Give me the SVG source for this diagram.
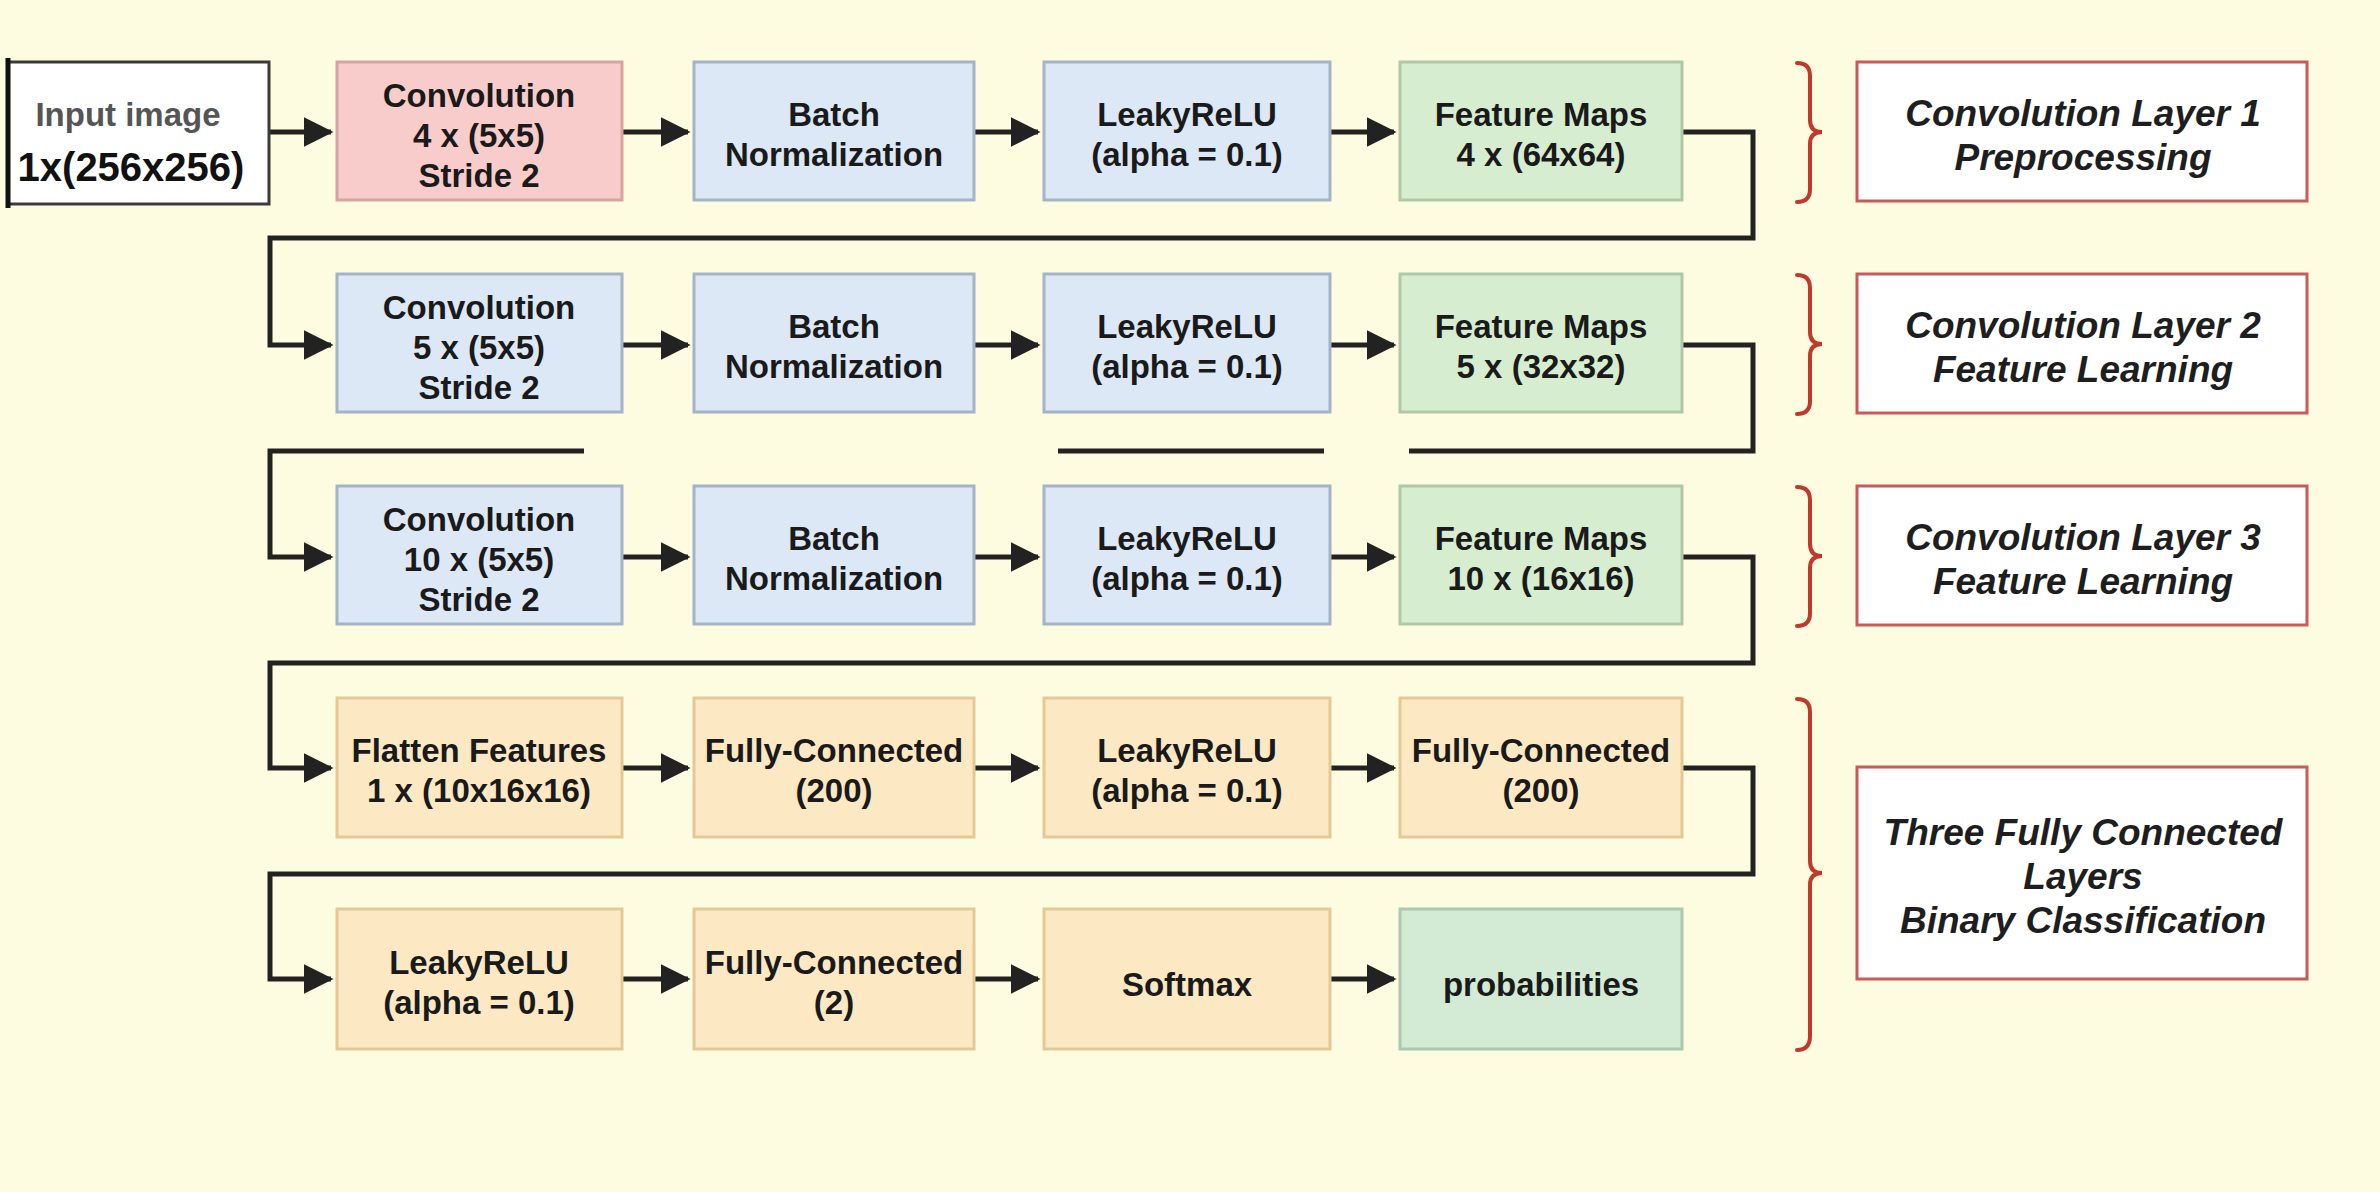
<svg xmlns="http://www.w3.org/2000/svg" width="2380" height="1192" viewBox="0 0 2380 1192">
<defs>
<marker id="arr" markerWidth="6" markerHeight="6" refX="5.5" refY="3" orient="auto" markerUnits="strokeWidth">
<path d="M0,0 L6,3 L0,6 Z" fill="#222"/>
</marker>
<style>
.t{font-family:"Liberation Sans",Arial,sans-serif;font-weight:bold;font-size:33px;fill:#1a1a1a;text-anchor:middle}
.lt{font-family:"Liberation Sans",Arial,sans-serif;font-weight:bold;font-style:italic;font-size:37px;fill:#1e1e1e;text-anchor:middle}
.pink{fill:#F8CCCB;stroke:#D9A3A1;stroke-width:3}
.blue{fill:#DCE8F6;stroke:#A3B4C8;stroke-width:3}
.green{fill:#D6EDCF;stroke:#AFC8A7;stroke-width:3}
.tan{fill:#FCE9C3;stroke:#E2C996;stroke-width:3}
.mint{fill:#D3EBD5;stroke:#A9C9B0;stroke-width:3}
.lab{fill:#FFFFFF;stroke:#C85A5A;stroke-width:3}
.br{fill:none;stroke:#C0392B;stroke-width:4;stroke-linecap:round}
.c{fill:none;stroke:#222;stroke-width:5}
</style>
</defs>
<rect x="0" y="0" width="2380" height="1192" fill="#FEFCE0"/>

<g id="connectors">
<path class="c" d="M269,132 H331" marker-end="url(#arr)"/>
<path class="c" d="M622,132 H688" marker-end="url(#arr)"/>
<path class="c" d="M974,132 H1038" marker-end="url(#arr)"/>
<path class="c" d="M1330,132 H1394" marker-end="url(#arr)"/>
<path class="c" d="M1682,132 H1753 V238 H270 V345 H331" marker-end="url(#arr)"/>
<path class="c" d="M622,345 H688" marker-end="url(#arr)"/>
<path class="c" d="M974,345 H1038" marker-end="url(#arr)"/>
<path class="c" d="M1330,345 H1394" marker-end="url(#arr)"/>
<path class="c" d="M1682,345 H1753 V451 H1409"/>
<path class="c" d="M1324,451 H1058"/>
<path class="c" d="M584,451 H270 V557 H331" marker-end="url(#arr)"/>
<path class="c" d="M622,557 H688" marker-end="url(#arr)"/>
<path class="c" d="M974,557 H1038" marker-end="url(#arr)"/>
<path class="c" d="M1330,557 H1394" marker-end="url(#arr)"/>
<path class="c" d="M1682,557 H1753 V663 H270 V768 H331" marker-end="url(#arr)"/>
<path class="c" d="M622,768 H688" marker-end="url(#arr)"/>
<path class="c" d="M974,768 H1038" marker-end="url(#arr)"/>
<path class="c" d="M1330,768 H1394" marker-end="url(#arr)"/>
<path class="c" d="M1682,768 H1753 V874 H270 V979 H331" marker-end="url(#arr)"/>
<path class="c" d="M622,979 H688" marker-end="url(#arr)"/>
<path class="c" d="M974,979 H1038" marker-end="url(#arr)"/>
<path class="c" d="M1330,979 H1394" marker-end="url(#arr)"/>
</g>

<g id="input">
<rect x="8" y="62" width="261" height="142" fill="#FFFFFF" stroke="#3a3a3a" stroke-width="3"/>
<line x1="8" y1="58" x2="8" y2="208" stroke="#111" stroke-width="5"/>
<text class="t" x="128" y="126" style="font-size:33px;fill:#555">Input image</text>
<text class="t" x="131" y="181" style="font-size:40px;fill:#111">1x(256x256)</text>
</g>

<g id="conv1">
<rect class="pink" x="337" y="62" width="285" height="138"/>
<text class="t" x="479" y="107">Convolution</text>
<text class="t" x="479" y="147">4 x (5x5)</text>
<text class="t" x="479" y="187">Stride 2</text>
</g>
<g id="bn1">
<rect class="blue" x="694" y="62" width="280" height="138"/>
<text class="t" x="834" y="126">Batch</text>
<text class="t" x="834" y="166">Normalization</text>
</g>
<g id="relu1">
<rect class="blue" x="1044" y="62" width="286" height="138"/>
<text class="t" x="1187" y="126">LeakyReLU</text>
<text class="t" x="1187" y="166">(alpha = 0.1)</text>
</g>
<g id="fm1">
<rect class="green" x="1400" y="62" width="282" height="138"/>
<text class="t" x="1541" y="126">Feature Maps</text>
<text class="t" x="1541" y="166">4 x (64x64)</text>
</g>

<g id="conv2">
<rect class="blue" x="337" y="274" width="285" height="138"/>
<text class="t" x="479" y="319">Convolution</text>
<text class="t" x="479" y="359">5 x (5x5)</text>
<text class="t" x="479" y="399">Stride 2</text>
</g>
<g id="bn2">
<rect class="blue" x="694" y="274" width="280" height="138"/>
<text class="t" x="834" y="338">Batch</text>
<text class="t" x="834" y="378">Normalization</text>
</g>
<g id="relu2">
<rect class="blue" x="1044" y="274" width="286" height="138"/>
<text class="t" x="1187" y="338">LeakyReLU</text>
<text class="t" x="1187" y="378">(alpha = 0.1)</text>
</g>
<g id="fm2">
<rect class="green" x="1400" y="274" width="282" height="138"/>
<text class="t" x="1541" y="338">Feature Maps</text>
<text class="t" x="1541" y="378">5 x (32x32)</text>
</g>

<g id="conv3">
<rect class="blue" x="337" y="486" width="285" height="138"/>
<text class="t" x="479" y="531">Convolution</text>
<text class="t" x="479" y="571">10 x (5x5)</text>
<text class="t" x="479" y="611">Stride 2</text>
</g>
<g id="bn3">
<rect class="blue" x="694" y="486" width="280" height="138"/>
<text class="t" x="834" y="550">Batch</text>
<text class="t" x="834" y="590">Normalization</text>
</g>
<g id="relu3">
<rect class="blue" x="1044" y="486" width="286" height="138"/>
<text class="t" x="1187" y="550">LeakyReLU</text>
<text class="t" x="1187" y="590">(alpha = 0.1)</text>
</g>
<g id="fm3">
<rect class="green" x="1400" y="486" width="282" height="138"/>
<text class="t" x="1541" y="550">Feature Maps</text>
<text class="t" x="1541" y="590">10 x (16x16)</text>
</g>

<g id="flatten">
<rect class="tan" x="337" y="698" width="285" height="139"/>
<text class="t" x="479" y="762">Flatten Features</text>
<text class="t" x="479" y="802">1 x (10x16x16)</text>
</g>
<g id="fc1">
<rect class="tan" x="694" y="698" width="280" height="139"/>
<text class="t" x="834" y="762">Fully-Connected</text>
<text class="t" x="834" y="802">(200)</text>
</g>
<g id="relu4">
<rect class="tan" x="1044" y="698" width="286" height="139"/>
<text class="t" x="1187" y="762">LeakyReLU</text>
<text class="t" x="1187" y="802">(alpha = 0.1)</text>
</g>
<g id="fc2">
<rect class="tan" x="1400" y="698" width="282" height="139"/>
<text class="t" x="1541" y="762">Fully-Connected</text>
<text class="t" x="1541" y="802">(200)</text>
</g>

<g id="relu5">
<rect class="tan" x="337" y="909" width="285" height="140"/>
<text class="t" x="479" y="974">LeakyReLU</text>
<text class="t" x="479" y="1014">(alpha = 0.1)</text>
</g>
<g id="fc3">
<rect class="tan" x="694" y="909" width="280" height="140"/>
<text class="t" x="834" y="974">Fully-Connected</text>
<text class="t" x="834" y="1014">(2)</text>
</g>
<g id="softmax">
<rect class="tan" x="1044" y="909" width="286" height="140"/>
<text class="t" x="1187" y="996">Softmax</text>
</g>
<g id="probabilities">
<rect class="mint" x="1400" y="909" width="282" height="140"/>
<text class="t" x="1541" y="996">probabilities</text>
</g>

<g id="label1">
<path class="br" d="M1797,63 Q1810,63 1810,76 V120 Q1810,132 1822,132 Q1810,132 1810,144 V189 Q1810,202 1797,202"/>
<rect class="lab" x="1857" y="62" width="450" height="139"/>
<text class="lt" x="2083" y="126">Convolution Layer 1</text>
<text class="lt" x="2083" y="170">Preprocessing</text>
</g>
<g id="label2">
<path class="br" d="M1797,275 Q1810,275 1810,288 V332 Q1810,344 1822,344 Q1810,344 1810,356 V401 Q1810,414 1797,414"/>
<rect class="lab" x="1857" y="274" width="450" height="139"/>
<text class="lt" x="2083" y="338">Convolution Layer 2</text>
<text class="lt" x="2083" y="382">Feature Learning</text>
</g>
<g id="label3">
<path class="br" d="M1797,487 Q1810,487 1810,500 V544 Q1810,556 1822,556 Q1810,556 1810,568 V613 Q1810,626 1797,626"/>
<rect class="lab" x="1857" y="486" width="450" height="139"/>
<text class="lt" x="2083" y="550">Convolution Layer 3</text>
<text class="lt" x="2083" y="594">Feature Learning</text>
</g>
<g id="label4">
<path class="br" d="M1797,699 Q1810,699 1810,712 V861 Q1810,873 1822,873 Q1810,873 1810,885 V1036 Q1810,1050 1797,1050"/>
<rect class="lab" x="1857" y="767" width="450" height="212"/>
<text class="lt" x="2083" y="845">Three Fully Connected</text>
<text class="lt" x="2083" y="889">Layers</text>
<text class="lt" x="2083" y="933">Binary Classification</text>
</g>
</svg>
